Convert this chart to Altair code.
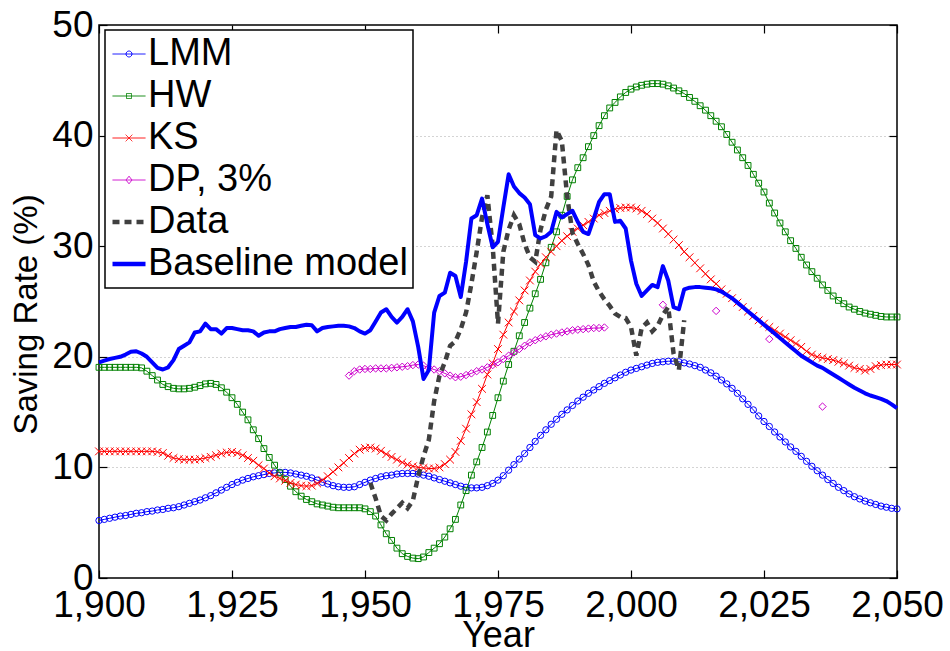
import altair as alt
import pandas as pd

# ---------------- data ----------------
YEARS = list(range(1900, 2051))

LMM = [5.2, 5.3, 5.4, 5.5, 5.6, 5.65, 5.75, 5.85, 5.9, 6.0,
       6.05, 6.15, 6.2, 6.3, 6.35, 6.45, 6.6, 6.75, 6.9, 7.05,
       7.25, 7.45, 7.7, 7.95, 8.2, 8.45, 8.65, 8.85, 9.0, 9.15,
       9.25, 9.35, 9.45, 9.5, 9.55, 9.55, 9.5, 9.4, 9.3, 9.2,
       9.05, 8.85, 8.65, 8.5, 8.35, 8.25, 8.2, 8.2, 8.25, 8.45,
       8.65, 8.85, 9.0, 9.15, 9.25, 9.3, 9.4, 9.45, 9.45, 9.45,
       9.4, 9.3, 9.2, 9.05, 8.9, 8.75, 8.6, 8.45, 8.3, 8.2,
       8.15, 8.15, 8.2, 8.35, 8.55, 8.85, 9.25, 9.75, 10.25, 10.75,
       11.25, 11.8, 12.35, 12.9, 13.4, 13.9, 14.35, 14.8, 15.2, 15.6,
       16.0, 16.35, 16.7, 17.0, 17.3, 17.6, 17.85, 18.1, 18.35, 18.6,
       18.8, 18.95, 19.1, 19.25, 19.4, 19.5, 19.55, 19.6, 19.6, 19.55,
       19.45, 19.35, 19.2, 19.05, 18.8, 18.55, 18.25, 17.9, 17.55, 17.15,
       16.7, 16.2, 15.7, 15.2, 14.65, 14.15, 13.7, 13.2, 12.75, 12.3,
       11.85, 11.45, 11.0, 10.55, 10.1, 9.7, 9.3, 8.9, 8.55, 8.2,
       7.9, 7.6, 7.35, 7.15, 6.95, 6.8, 6.65, 6.5, 6.4, 6.3,
       6.25]

HW = [19.05, 19.05, 19.05, 19.05, 19.05, 19.05, 19.05, 19.05, 19.0, 18.7,
      18.3, 17.9, 17.5, 17.3, 17.15, 17.1, 17.1, 17.15, 17.25, 17.4,
      17.55, 17.6, 17.5, 17.2, 16.8, 16.3, 15.7, 15.0, 14.3, 13.4,
      12.6, 11.7, 10.9, 10.2, 9.5, 8.9, 8.3, 7.8, 7.4, 7.1,
      6.9, 6.7, 6.6, 6.5, 6.4, 6.35, 6.35, 6.35, 6.35, 6.35,
      6.25, 6.0, 5.6, 4.8, 4.0, 3.4, 2.7, 2.2, 1.95, 1.8,
      1.75, 1.9, 2.3, 2.7, 3.1, 3.7, 4.45, 5.3, 6.6, 7.9,
      9.3, 10.5, 11.8, 13.2, 14.7, 16.3, 17.8, 19.3, 20.5, 21.9,
      23.1, 24.4, 25.7, 27.0, 28.5, 29.9, 31.3, 32.8, 34.5, 36.0,
      37.1, 38.0, 39.0, 40.0, 40.9, 41.8, 42.5, 43.0, 43.5, 43.9,
      44.2, 44.4, 44.55, 44.65, 44.7, 44.7, 44.65, 44.5, 44.3, 44.05,
      43.8, 43.45, 43.1, 42.7, 42.3, 41.8, 41.3, 40.8, 40.1, 39.4,
      38.7, 38.0, 37.3, 36.5, 35.7, 34.9, 33.9, 33.0, 32.1, 31.3,
      30.5, 29.8, 29.0, 28.3, 27.7, 27.1, 26.5, 26.0, 25.5, 25.1,
      24.8, 24.5, 24.3, 24.1, 23.95, 23.85, 23.75, 23.65, 23.6, 23.6,
      23.6]

KS = [11.45, 11.45, 11.45, 11.45, 11.45, 11.45, 11.45, 11.45, 11.45, 11.45,
      11.45, 11.4, 11.3, 11.05, 10.85, 10.75, 10.7, 10.7, 10.7, 10.75,
      10.85, 10.95, 11.1, 11.25, 11.35, 11.4, 11.3, 11.1, 10.85, 10.6,
      10.2, 9.9, 9.5, 9.2, 9.0, 8.8, 8.6, 8.45, 8.35, 8.3,
      8.35, 8.55, 8.85, 9.2, 9.6, 10.0, 10.4, 10.85, 11.25, 11.6,
      11.75, 11.8, 11.7, 11.5, 11.2, 10.95, 10.7, 10.45, 10.25, 10.1,
      10.0, 9.95, 9.9, 9.9, 10.0, 10.3, 10.7, 11.4, 12.4, 13.5,
      14.8, 15.9, 17.1, 18.4, 19.4, 20.7, 22.0, 23.1, 24.1, 25.1,
      26.0, 26.9, 27.7, 28.4, 29.0, 29.5, 30.0, 30.5, 30.9, 31.3,
      31.6, 31.9, 32.2, 32.5, 32.8, 33.0, 33.2, 33.35, 33.45, 33.5,
      33.5, 33.4, 33.2, 32.9, 32.5, 32.1, 31.6, 31.1, 30.6, 30.1,
      29.5, 29.0, 28.5, 28.0, 27.5, 27.0, 26.6, 26.1, 25.7, 25.3,
      24.9, 24.5, 24.1, 23.7, 23.3, 23.0, 22.7, 22.4, 22.1, 21.8,
      21.5, 21.2, 20.9, 20.5, 20.2, 20.0, 19.9, 19.8, 19.7, 19.55,
      19.4, 19.2, 19.0, 18.9, 18.75, 18.9, 19.15, 19.25, 19.3, 19.3,
      19.3]

DP_YEARS = list(range(1947, 1996))
DP = [18.3, 18.7, 18.85,
      18.9, 18.9, 18.95, 18.95, 18.95, 19.0, 19.05, 19.1, 19.15, 19.25,
      19.3, 19.2, 19.0, 18.85, 18.7, 18.5, 18.3, 18.15, 18.2, 18.35,
      18.5, 18.7, 18.85, 19.05, 19.25, 19.5, 19.8, 20.1, 20.4, 20.7,
      21.0, 21.3, 21.5, 21.7, 21.85, 22.0, 22.1, 22.2, 22.3, 22.4,
      22.45, 22.5, 22.55, 22.6, 22.6, 22.65]

DP_EXTRA_YEARS = [2006, 2016, 2026, 2036]
DP_EXTRA = [24.7, 24.15, 21.6, 15.5]

DATA_YEARS = list(range(1951, 2011))
DATA = [8.6, 7.2, 5.6, 5.2, 5.8, 6.3, 6.8, 6.3, 7.0,
        9.2, 11.0, 12.5, 16.0, 18.3, 19.5, 21.0, 21.4, 22.5, 24.0,
        26.6, 29.5, 32.6, 34.6, 30.0, 23.0, 29.5, 31.5, 32.8, 32.0,
        30.2, 29.0, 28.6, 31.5, 33.3, 34.5, 40.5, 39.5, 34.5, 31.2,
        30.2, 29.3, 28.3, 26.8, 25.9, 25.2, 24.6, 23.9, 23.6, 23.5,
        22.7, 20.1, 22.6, 23.1, 22.3, 22.8, 23.8, 24.5, 20.3, 18.8,
        23.3]

BASELINE = [19.5, 19.65, 19.8, 19.9, 20.0, 20.2, 20.45, 20.5, 20.3, 20.0,
            19.5, 19.0, 18.85, 19.05, 19.7, 20.7, 21.0, 21.3, 22.2, 22.3,
            23.0, 22.5, 22.5, 22.1, 22.6, 22.6, 22.5, 22.4, 22.4, 22.3,
            21.9, 22.2, 22.3, 22.3, 22.5, 22.6, 22.7, 22.7, 22.8, 22.9,
            22.85, 22.3, 22.6, 22.7, 22.75, 22.8, 22.8, 22.75, 22.6, 22.3,
            22.1, 22.4, 23.2, 24.0, 24.3, 23.6, 23.1, 23.6, 24.3, 23.2,
            20.9, 18.0, 18.8, 24.0, 25.5, 25.8, 27.6, 27.3, 25.4, 28.6,
            32.5, 32.8, 34.3, 32.0, 29.9, 30.4, 33.5, 36.5, 35.4, 34.8,
            34.4, 33.8, 31.0, 30.7, 30.9, 31.3, 33.1, 32.6, 32.9, 33.2,
            32.2, 31.3, 31.1, 32.5, 34.0, 34.7, 34.7, 32.2, 32.3, 31.6,
            28.7, 26.6, 25.5, 26.0, 26.5, 26.3, 28.2, 26.9, 24.5, 24.3,
            26.1, 26.25, 26.3, 26.3, 26.25, 26.2, 26.1, 25.9, 25.6, 25.3,
            24.9, 24.5, 24.1, 23.7, 23.3, 22.9, 22.5, 22.1, 21.7, 21.3,
            20.9, 20.5, 20.1, 19.8, 19.5, 19.2, 19.0, 18.7, 18.4, 18.1,
            17.8, 17.5, 17.2, 16.95, 16.7, 16.5, 16.35, 16.2, 16.0, 15.7,
            15.35]

SERIES = ["LMM", "HW", "KS", "DP, 3%", "Data", "Baseline model"]
COLORS = ["#0000ff", "#008000", "#ff0000", "#cc00cc", "#404040", "#0000ff"]
XTICKS = [1900, 1925, 1950, 1975, 2000, 2025, 2050]
YTICKS = [0, 10, 20, 30, 40, 50]
GRIDLINES = [10, 20, 30, 40]

# ---------------- style ----------------
W, H = 798, 553
FONT = "Liberation Sans, Arial, Helvetica, sans-serif"
NARROW = "Liberation Sans Narrow, Arial Narrow, Liberation Sans, sans-serif"
XMARK = "M-1,-1L1,1M-1,1L1,-1"

LEGEND_PATHS = [
    "M-1,0L1,0M0.18,0A0.18,0.18,0,1,1,-0.18,0A0.18,0.18,0,1,1,0.18,0Z",
    "M-1,0L1,0M-0.15,-0.15L0.15,-0.15L0.15,0.15L-0.15,0.15Z",
    "M-1,0L1,0M-0.2,-0.2L0.2,0.2M-0.2,0.2L0.2,-0.2",
    "M-1,0L1,0M0,-0.23L0.18,0L0,0.23L-0.18,0Z",
    "M-1,0L1,0",
    "M-1,0L1,0",
]
LEGEND_WIDTHS = [1, 1, 1, 1, 4.5, 4.5]
LEGEND_DASHES = [[1, 0], [1, 0], [1, 0], [1, 0], [7, 5], [1, 0]]


def frame(years, values):
    return pd.DataFrame({"year": years, "value": values})


XS = alt.Scale(domain=[1900, 2050], nice=False, zero=False)
YS = alt.Scale(domain=[0, 50], nice=False, zero=False)


def enc(chart, xaxis=None, yaxis=None):
    return chart.encode(
        x=alt.X("year:Q", scale=XS, axis=xaxis),
        y=alt.Y("value:Q", scale=YS, axis=yaxis),
    )


ax_x_main = alt.Axis(values=XTICKS, format=",d", ticks=False, domain=False, grid=False,
                     labelFont=NARROW, labelFontSize=37, labelColor="black",
                     labelPadding=9, labelFlush=False, labelOverlap=False, labelBound=False,
                     title="Year", titleFont=NARROW, titleFontSize=36, titleFontWeight="normal",
                     titleColor="black", titleX=W / 2, titleY=68, titleAlign="center",
                     titleBaseline="alphabetic")
ax_y_main = alt.Axis(values=YTICKS, ticks=False, domain=False, grid=False,
                     labelFont=NARROW, labelFontSize=37, labelColor="black",
                     labelPadding=6, labelFlush=False, labelOverlap=False, labelBound=False,
                     title="Saving Rate (%)", titleFont=FONT, titleFontSize=33,
                     titleFontWeight="normal", titleColor="black", titleAngle=270,
                     titleX=-63, titleY=289, titleAlign="center", titleBaseline="alphabetic")
ax_y_grid = alt.Axis(values=GRIDLINES, grid=True, gridColor="#a8a8a8", gridDash=[1, 3],
                     gridWidth=1, ticks=False, labels=False, domain=False, title=None)
tick_style = dict(labels=False, ticks=True, tickSize=8, tickColor="black", tickWidth=1.2,
                  domain=False, grid=False, title=None)
ax_x_in_bottom = alt.Axis(orient="top", offset=-H, values=XTICKS, **tick_style)
ax_x_in_top = alt.Axis(orient="bottom", offset=-H, values=XTICKS, **tick_style)
ax_y_in_left = alt.Axis(orient="right", offset=-W, values=YTICKS, **tick_style)
ax_y_in_right = alt.Axis(orient="left", offset=-W, values=YTICKS, **tick_style)

lmm_df, hw_df, ks_df = frame(YEARS, LMM), frame(YEARS, HW), frame(YEARS, KS)
dp_df, dpx_df = frame(DP_YEARS, DP), frame(DP_EXTRA_YEARS, DP_EXTRA)
data_df, base_df = frame(DATA_YEARS, DATA), frame(YEARS, BASELINE)

lmm_line = enc(alt.Chart(lmm_df).mark_line(color=COLORS[0], strokeWidth=1), ax_x_main, ax_y_main)
lmm_pts = enc(alt.Chart(lmm_df).mark_point(shape="circle", size=40, filled=False,
                                           color=COLORS[0], strokeWidth=1, opacity=1),
              ax_x_in_bottom, ax_y_grid)
hw_line = enc(alt.Chart(hw_df).mark_line(color=COLORS[1], strokeWidth=1), ax_x_in_top, ax_y_in_left)
hw_pts = enc(alt.Chart(hw_df).mark_point(shape="square", size=34, filled=False,
                                         color=COLORS[1], strokeWidth=1, opacity=1),
             None, ax_y_in_right)
ks_line = enc(alt.Chart(ks_df).mark_line(color=COLORS[2], strokeWidth=1))
ks_pts = enc(alt.Chart(ks_df).mark_point(shape=XMARK, size=60, filled=False,
                                         color=COLORS[2], strokeWidth=1, opacity=1))
dp_line = enc(alt.Chart(dp_df).mark_line(color=COLORS[3], strokeWidth=1))
dp_pts = enc(alt.Chart(dp_df).mark_point(shape="diamond", size=55, filled=False,
                                         color=COLORS[3], strokeWidth=1, opacity=1))
dpx_pts = enc(alt.Chart(dpx_df).mark_point(shape="diamond", size=55, filled=False,
                                           color=COLORS[3], strokeWidth=1, opacity=1))
data_line = enc(alt.Chart(data_df).mark_line(color=COLORS[4], strokeWidth=4.5,
                                             strokeDash=[7, 5], strokeCap="butt"))
base_line = enc(alt.Chart(base_df).mark_line(color=COLORS[5], strokeWidth=4,
                                             strokeJoin="round"))

leg = alt.Legend(orient="none", legendX=6, legendY=5, title=None,
                 labelFont=FONT, labelFontSize=38, labelColor="black", labelOffset=0,
                 labelLimit=0, symbolSize=1089, rowPadding=4, padding=5,
                 strokeColor="black", fillColor="white", cornerRadius=0, symbolOpacity=1)
legend_df = pd.DataFrame({"series": SERIES})
legend_layer = alt.Chart(legend_df).mark_point(filled=False, opacity=0).encode(
    color=alt.Color("series:N", scale=alt.Scale(domain=SERIES, range=COLORS), legend=leg),
    shape=alt.Shape("series:N", scale=alt.Scale(domain=SERIES, range=LEGEND_PATHS), legend=leg),
    strokeWidth=alt.StrokeWidth("series:N", scale=alt.Scale(type="ordinal", domain=SERIES,
                                                            range=LEGEND_WIDTHS), legend=leg),
    strokeDash=alt.StrokeDash("series:N", scale=alt.Scale(domain=SERIES, range=LEGEND_DASHES),
                              legend=leg),
)

chart = alt.layer(
    lmm_line, lmm_pts, hw_line, hw_pts, ks_line, ks_pts,
    dp_line, dp_pts, dpx_pts, data_line, base_line, legend_layer,
).resolve_axis(x="independent", y="independent").properties(
    width=W, height=H,
    autosize=alt.AutoSizeParams(type="none"),
    padding={"left": 99, "top": 25, "right": 53, "bottom": 73},
    background="white",
).configure_view(stroke="black", strokeWidth=1.5).configure_legend(strokeWidth=1.5)

chart.save("out.html", embed_options={"renderer": "svg", "actions": False})
